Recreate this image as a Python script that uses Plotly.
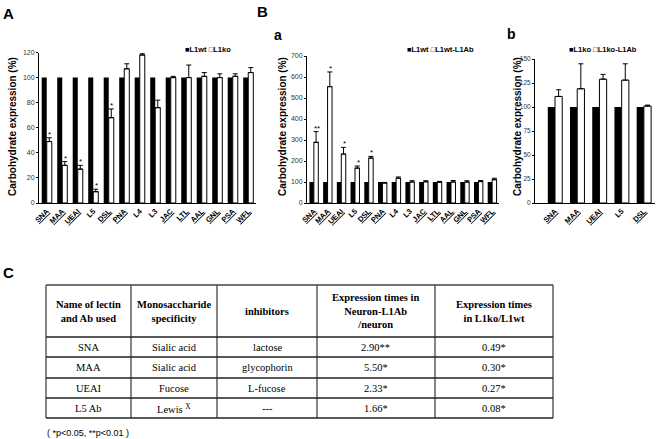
import plotly.graph_objects as go

W, H = 656, 439

# ---------------- data ----------------
lectins = ["SNA", "MAA", "UEAI", "L5", "DSL", "PNA", "L4", "L3", "JAC", "LTL", "AAL", "GNL", "PSA", "WFL"]
underlined = ["SNA", "MAA", "UEAI", "DSL", "PNA", "JAC", "LTL", "AAL", "GNL", "PSA", "WFL"]

# Panel A : L1wt vs L1ko
a_wt = [100, 100, 100, 100, 100, 100, 100, 100, 100, 100, 100, 100, 100, 100]
a_ko = [49, 30, 27, 9, 68, 107, 118, 76, 100, 100, 101, 100, 101, 104]
a_ko_err = [3, 3, 3, 2, 7, 4, 1, 6, 1, 10, 3, 3, 2, 4]
a_sig = ["*", "*", "*", "*", "*", "", "", "", "", "", "", "", "", ""]

# Panel B-a : L1wt vs L1wt-L1Ab
ba_wt = [100, 100, 100, 100, 100, 100, 100, 100, 100, 100, 100, 100, 100, 100]
ba_ab = [289, 554, 233, 166, 214, 95, 118, 100, 101, 99, 100, 100, 102, 111]
ba_ab_err = [51, 70, 32, 10, 8, 3, 6, 6, 5, 4, 7, 6, 5, 7]
ba_sig = ["**", "*", "*", "*", "*", "", "", "", "", "", "", "", "", ""]

# Panel B-b : L1ko vs L1ko-L1Ab
bb_cats = ["SNA", "MAA", "UEAI", "L5", "DSL"]
bb_ko = [100, 100, 100, 100, 100]
bb_ab = [111, 119, 129, 128, 101]
bb_ab_err = [7, 26, 5, 17, 1]

# Panel C : table
tbl_header = ["Name of lectin<br>and Ab used", "Monosaccharide<br>specificity", "inhibitors",
              "Expression times in<br>Neuron-L1Ab<br>/neuron", "Expression times<br>in L1ko/L1wt"]
tbl_name = ["SNA", "MAA", "UEAI", "L5 Ab"]
tbl_spec = ["Sialic acid", "Sialic acid", "Fucose", "Lewis <sup>X</sup>"]
tbl_inhib = ["lactose", "glycophorin", "L-fucose", "---"]
tbl_neuron = ["2.90**", "5.50*", "2.33*", "1.66*"]
tbl_ko = ["0.49*", "0.30*", "0.27*", "0.08*"]
footnote = "( *p<0.05, **p<0.01 )"
ytitle_text = "Carbohydrate expression (%)"


def px(x):
    return x / W


def py(y):
    return 1 - y / H


def lab(c):
    return f"<u>{c}</u>" if c in underlined else c


SANS = "Liberation Sans, Arial, sans-serif"
SERIF = "Liberation Serif, Times New Roman, serif"

fig = go.Figure()

panels = [
    ("x", "y", lectins, a_wt, a_ko, a_ko_err, "L1wt", "L1ko"),
    ("x2", "y2", lectins, ba_wt, ba_ab, ba_ab_err, "L1wt", "L1wt-L1Ab"),
    ("x3", "y3", bb_cats, bb_ko, bb_ab, bb_ab_err, "L1ko", "L1ko-L1Ab"),
]
for xa, ya, cats, v1, v2, e2, n1, n2 in panels:
    fig.add_trace(go.Bar(x=cats, y=v1, name=n1, xaxis=xa, yaxis=ya,
                         marker=dict(color="black", line=dict(width=0)), showlegend=False))
    fig.add_trace(go.Bar(x=cats, y=v2, name=n2, xaxis=xa, yaxis=ya,
                         marker=dict(color="white", line=dict(color="black", width=1)),
                         error_y=dict(type="data", symmetric=False, array=e2,
                                      arrayminus=[0] * len(e2), color="black",
                                      thickness=1, width=2.5),
                         showlegend=False))

xcommon = dict(type="category", showline=True, linecolor="black", linewidth=1,
               ticks="", tickangle=-45, showgrid=False, zeroline=False, automargin=False,
               tickfont=dict(family=SANS, size=7.5, color="black", weight="bold"))
ycommon = dict(showline=True, linecolor="black", linewidth=1, ticks="outside", ticklen=2,
               tickcolor="black", showgrid=False, zeroline=False, automargin=False,
               tickfont=dict(family=SANS, size=7, color="#333"))

fig.update_layout(
    template="none",
    width=W, height=H, margin=dict(l=0, r=0, t=0, b=0, pad=0), autosize=False,
    paper_bgcolor="white", plot_bgcolor="white",
    barmode="group", bargap=0.35, bargroupgap=0, showlegend=False,
    xaxis=dict(xcommon, domain=[px(39), px(256)], anchor="y",
               tickvals=lectins, ticktext=[lab(c) for c in lectins]),
    yaxis=dict(ycommon, domain=[py(203), py(52.5)], anchor="x", range=[0, 120], dtick=20),
    xaxis2=dict(xcommon, domain=[px(307), px(499)], anchor="y2",
                tickvals=lectins, ticktext=[lab(c) for c in lectins]),
    yaxis2=dict(ycommon, domain=[py(203), py(56)], anchor="x2", range=[0, 700], dtick=100),
    xaxis3=dict(xcommon, domain=[px(535), px(655)], anchor="y3", range=[-0.9, 4.5],
                tickvals=bb_cats, ticktext=[lab(c) for c in bb_cats]),
    yaxis3=dict(ycommon, domain=[py(203), py(59)], anchor="x3", range=[0, 150], dtick=25,
                tickfont=dict(family=SANS, size=6.5, color="#333")),
)

ann = []
# y-axis titles
for x in [12, 282, 517]:
    ann.append(dict(x=px(x), y=py(127), xref="paper", yref="paper", text=ytitle_text,
                    textangle=-90, showarrow=False, xanchor="center", yanchor="middle",
                    font=dict(family=SANS, size=10, color="black", weight="bold")))

# significance marks
for xa, ya, cats, vals, errs, sig in [("x", "y", lectins, a_ko, a_ko_err, a_sig),
                                      ("x2", "y2", lectins, ba_ab, ba_ab_err, ba_sig)]:
    for c, v, e, s in zip(cats, vals, errs, sig):
        if s:
            ann.append(dict(x=c, y=v + e, xref=xa, yref=ya, text=s, showarrow=False,
                            yanchor="bottom", xshift=3, yshift=-3,
                            font=dict(family=SANS, size=8, color="black")))

# panel letters
for t, x, y, s in [("A", 1, 3, 15), ("B", 255, 1, 15), ("a", 272, 25, 14),
                   ("b", 505, 24, 14), ("C", 1, 262, 15)]:
    ann.append(dict(x=px(x), y=py(y), xref="paper", yref="paper", text=t, showarrow=False,
                    xanchor="left", yanchor="top",
                    font=dict(family=SANS, size=s, color="black", weight="bold")))

# legends
for x, t in [(183, "■L1wt □L1ko"), (405, "■L1wt □L1wt-L1Ab"), (567, "■L1ko □L1ko-L1Ab")]:
    ann.append(dict(x=px(x), y=py(49), xref="paper", yref="paper", text=t, showarrow=False,
                    xanchor="left", yanchor="middle",
                    font=dict(family=SANS, size=7.5, color="black", weight="bold")))

# table
col_edges = [46, 131, 217, 317, 435, 553]
row_edges = [285, 337, 357, 378, 398, 418]
shapes = []
for xe in col_edges:
    shapes.append(dict(type="line", xref="paper", yref="paper", x0=px(xe), x1=px(xe),
                       y0=py(row_edges[0]), y1=py(row_edges[-1]),
                       line=dict(color="#444", width=1.3)))
for ye in row_edges:
    shapes.append(dict(type="line", xref="paper", yref="paper", x0=px(col_edges[0]),
                       x1=px(col_edges[-1]), y0=py(ye), y1=py(ye),
                       line=dict(color="#222" if ye != row_edges[0] else "#444", width=1.3)))

cols = [tbl_name, tbl_spec, tbl_inhib, tbl_neuron, tbl_ko]
for j, htxt in enumerate(tbl_header):
    xc = (col_edges[j] + col_edges[j + 1]) / 2
    ann.append(dict(x=px(xc), y=py((row_edges[0] + row_edges[1]) / 2), xref="paper",
                    yref="paper", text=htxt, showarrow=False, align="center",
                    xanchor="center", yanchor="middle",
                    font=dict(family=SERIF, size=10.5, color="black", weight="bold")))
    for i, v in enumerate(cols[j]):
        ann.append(dict(x=px(xc), y=py((row_edges[i + 1] + row_edges[i + 2]) / 2),
                        xref="paper", yref="paper", text=v, showarrow=False,
                        xanchor="center", yanchor="middle",
                        font=dict(family=SERIF, size=10.5, color="black")))

ann.append(dict(x=px(45), y=py(433), xref="paper", yref="paper", text=footnote,
                showarrow=False, xanchor="left", yanchor="middle",
                font=dict(family=SANS, size=9, color="black")))

fig.update_layout(annotations=ann, shapes=shapes)
# remove the browser's default 8px page margin so the figure fills the window exactly
fig.write_html("out.html", config={"displayModeBar": False},
               post_script="document.body.style.margin='0';")
